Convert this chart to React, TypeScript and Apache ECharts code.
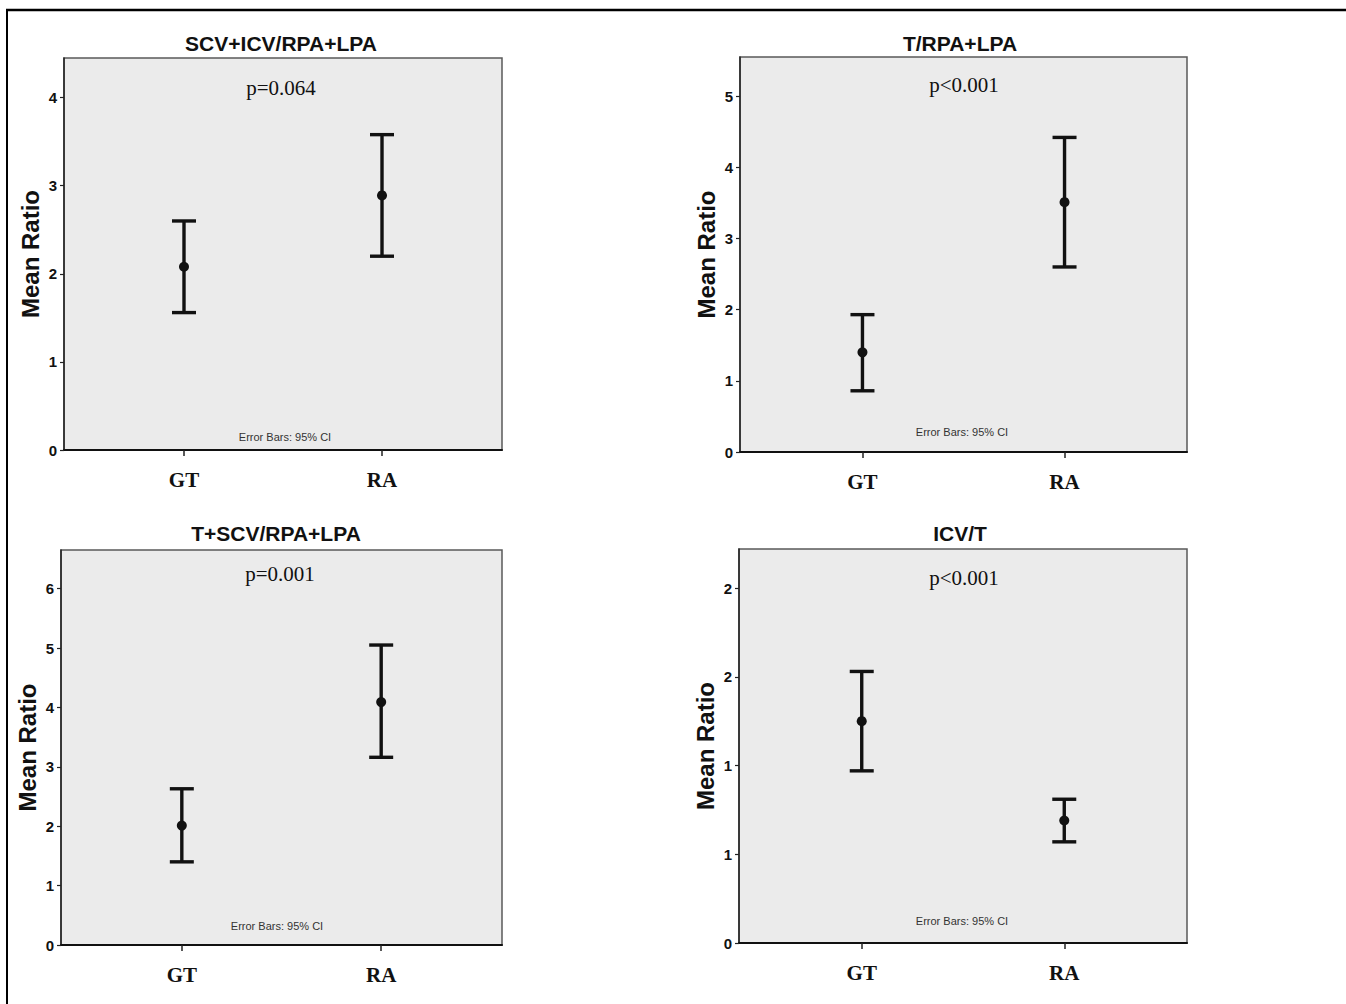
import React, { useEffect, useRef } from "react";
import * as echarts from "echarts";

// ---- data ----
const categories = ["GT", "RA"];
const panelTitles = ["SCV+ICV/RPA+LPA", "T/RPA+LPA", "T+SCV/RPA+LPA", "ICV/T"];
const pValues = ["p=0.064", "p<0.001", "p=0.001", "p<0.001"];
const meanGT = [2.08, 1.4, 2.01, 1.25];
const lowerGT = [1.56, 0.86, 1.4, 0.97];
const upperGT = [2.6, 1.93, 2.63, 1.53];
const meanRA = [2.89, 3.51, 4.09, 0.69];
const lowerRA = [2.2, 2.6, 3.16, 0.57];
const upperRA = [3.58, 4.42, 5.05, 0.81];
const yMax = [4.45, 5.55, 6.65, 2.22];
const yTickValues = [
  [0, 1, 2, 3, 4],
  [0, 1, 2, 3, 4, 5],
  [0, 1, 2, 3, 4, 5, 6],
  [0, 0.5, 1, 1.5, 2],
];
const yTickLabels = [
  ["0", "1", "2", "3", "4"],
  ["0", "1", "2", "3", "4", "5"],
  ["0", "1", "2", "3", "4", "5", "6"],
  ["0", "1", "1", "2", "2"],
];
const yAxisName = "Mean Ratio";
const footnote = "Error Bars: 95% CI";

// ---- layout ----
const grids = [
  { left: 64, top: 58, width: 438, height: 392 },
  { left: 740, top: 57, width: 447, height: 395 },
  { left: 61, top: 550, width: 441, height: 395 },
  { left: 739, top: 549, width: 448, height: 394 },
];
const titlePos = [
  [281, 43],
  [960, 43],
  [276, 533],
  [960, 533],
];
const pPos = [
  [281, 88],
  [964, 85],
  [280, 574],
  [964, 578],
];
const notePos = [
  [285, 437],
  [962, 432],
  [277, 926],
  [962, 921],
];

const SANS = "'Liberation Sans', Arial, sans-serif";
const SERIF = "'Liberation Serif', 'Times New Roman', serif";

export default function App() {
  const ref = useRef<HTMLDivElement>(null);
  useEffect(() => {
    if (!ref.current) return;
    const chart = echarts.init(ref.current, undefined, { renderer: "svg" });

    const grid = grids.map((g) => ({
      ...g,
      show: true,
      backgroundColor: "#ebebeb",
      borderColor: "#5a5a5a",
      borderWidth: 1.5,
      containLabel: false,
    }));

    const xAxis = grids.map((_, i) => ({
      type: "value",
      gridIndex: i,
      min: 0.394,
      max: 2.606,
      splitLine: { show: false },
      axisLine: { show: true, onZero: false, lineStyle: { color: "#111", width: 2 } },
      axisTick: {
        show: true,
        customValues: [1, 2],
        length: 6,
        lineStyle: { color: "#222", width: 1.5 },
      },
      axisLabel: {
        customValues: [1, 2],
        formatter: (v: number) => categories[Math.round(v) - 1] ?? "",
        fontFamily: SERIF,
        fontWeight: "bold",
        fontSize: 21,
        color: "#111",
        margin: 19,
      },
    }));

    const yAxis = grids.map((_, i) => ({
      type: "value",
      gridIndex: i,
      min: 0,
      max: yMax[i],
      splitLine: { show: false },
      axisLine: { show: true, onZero: false, lineStyle: { color: "#222", width: 1.5 } },
      axisTick: {
        show: true,
        customValues: yTickValues[i],
        length: 4,
        lineStyle: { color: "#222", width: 1.2 },
      },
      axisLabel: {
        customValues: yTickValues[i],
        formatter: (v: number) => {
          const k = yTickValues[i].findIndex((t) => Math.abs(t - v) < 1e-6);
          return k >= 0 ? yTickLabels[i][k] : "";
        },
        fontFamily: SANS,
        fontWeight: "bold",
        fontSize: 15,
        color: "#111",
        margin: 7,
      },
      name: yAxisName,
      nameLocation: "middle",
      nameGap: 22,
      nameTextStyle: {
        fontFamily: SANS,
        fontWeight: "bold",
        fontSize: 24,
        color: "#111",
      },
    }));

    const series = grids.map((_, i) => ({
      type: "custom",
      xAxisIndex: i,
      yAxisIndex: i,
      encode: { x: 0, y: [1, 2, 3] },
      data: [
        [1, meanGT[i], lowerGT[i], upperGT[i]],
        [2, meanRA[i], lowerRA[i], upperRA[i]],
      ],
      renderItem: (params: any, api: any) => {
        const x = api.value(0);
        const pm = api.coord([x, api.value(1)]);
        const pl = api.coord([x, api.value(2)]);
        const ph = api.coord([x, api.value(3)]);
        const cap = 12;
        const st = { stroke: "#111", lineWidth: 3.4 };
        return {
          type: "group",
          children: [
            { type: "line", shape: { x1: pm[0], y1: ph[1], x2: pm[0], y2: pl[1] }, style: st },
            { type: "line", shape: { x1: pm[0] - cap, y1: ph[1], x2: pm[0] + cap, y2: ph[1] }, style: st },
            { type: "line", shape: { x1: pm[0] - cap, y1: pl[1], x2: pm[0] + cap, y2: pl[1] }, style: st },
            { type: "circle", shape: { cx: pm[0], cy: pm[1], r: 5 }, style: { fill: "#111" } },
          ],
        };
      },
    }));

    const texts: any[] = [];
    grids.forEach((_, i) => {
      texts.push({
        type: "text",
        x: titlePos[i][0],
        y: titlePos[i][1],
        style: {
          text: panelTitles[i],
          font: `bold 21px ${SANS}`,
          fill: "#111",
          textAlign: "center",
          textVerticalAlign: "middle",
        },
        z: 100,
      });
      texts.push({
        type: "text",
        x: pPos[i][0],
        y: pPos[i][1],
        style: {
          text: pValues[i],
          font: `21px ${SERIF}`,
          fill: "#111",
          textAlign: "center",
          textVerticalAlign: "middle",
        },
        z: 100,
      });
      texts.push({
        type: "text",
        x: notePos[i][0],
        y: notePos[i][1],
        style: {
          text: footnote,
          font: `11px ${SANS}`,
          fill: "#333",
          textAlign: "center",
          textVerticalAlign: "middle",
        },
        z: 100,
      });
    });
    texts.push({
      type: "line",
      shape: { x1: 6, y1: 10, x2: 1346, y2: 10 },
      style: { stroke: "#000", lineWidth: 2.5 },
      z: 100,
    });
    texts.push({
      type: "line",
      shape: { x1: 7, y1: 9, x2: 7, y2: 1004 },
      style: { stroke: "#000", lineWidth: 2 },
      z: 100,
    });

    chart.setOption({
      animation: false,
      backgroundColor: "#ffffff",
      grid,
      xAxis,
      yAxis,
      series,
      graphic: texts,
    });
    return () => chart.dispose();
  }, []);
  return (
    <div
      ref={ref}
      style={{ position: "absolute", left: 0, top: 0, width: 1346, height: 1004 }}
    />
  );
}
